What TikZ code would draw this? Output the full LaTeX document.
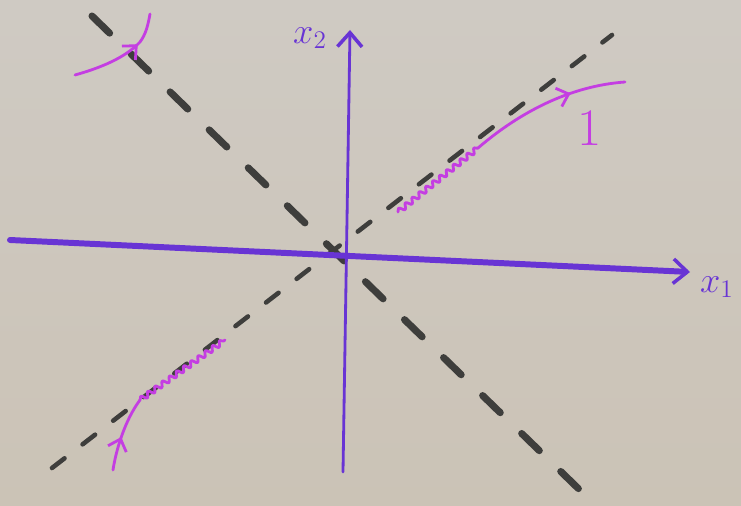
\documentclass[tikz,border=0pt]{standalone}
\usetikzlibrary{arrows.meta,decorations.pathmorphing,decorations.markings}
\definecolor{boardtop}{RGB}{207,202,195}
\definecolor{boardbot}{RGB}{203,195,182}
\definecolor{axispen}{RGB}{104,52,212}
\definecolor{orbitpen}{RGB}{196,62,226}
\definecolor{chalk}{RGB}{62,62,60}
\begin{document}
\begin{tikzpicture}[x=0.02cm, y=-0.02cm, line cap=round, line join=round,
	axisline/.style={draw=axispen, -{Straight Barb[length=8pt,width=14pt,line width=2pt]}},
	eigline/.style={draw=chalk},
	orbit/.style={draw=orbitpen, line width=1.6pt},
	midarrow/.style={postaction={decorate}, decoration={markings, mark=at position #1 with {\arrow{Straight Barb[length=6pt,width=11pt,line width=1.6pt]}}}},
	wiggle/.style={decorate, decoration={snake, amplitude=1.5pt, segment length=5pt}},
	lbl/.style={text=axispen, font=\huge}]
			\useasboundingbox (0,0) rectangle (741,506);
			\shade[top color=boardtop, bottom color=boardbot] (0,0) rectangle (741,506);
			
			\path (342,255) coordinate (O)
			(10,240) coordinate (A1)
			(690,272) coordinate (A2)
			(343,472) coordinate (B1)
			(350,30) coordinate (B2)
			(92,16) coordinate (P1)
			(586,496) coordinate (P2)
			(52,468) coordinate (Q1)
			(612,35) coordinate (Q2);
			
			\draw[eigline, line width=4pt, dash pattern=on 14pt off 17pt] (P1) -- (P2);
			\draw[eigline, line width=2.6pt, dash pattern=on 9pt off 13pt] (Q1) -- (Q2);
			
			\draw[axisline, line width=3.4pt] (A1) -- (A2);
			\draw[axisline, line width=1.6pt] (B1) -- (B2);
			
			\node[lbl, anchor=west] (lx1) at (694,287) {$x_1$};
			\node[lbl] (lx2) at (310,38) {$x_2$};
			
			\path (75,75) coordinate (S1)
			(140,42) coordinate (S2)
			(150,14) coordinate (S3)
			(398,212) coordinate (R1)
			(478,148) coordinate (R2)
			(625,82) coordinate (R3)
			(113,470) coordinate (U1)
			(140,400) coordinate (U2)
			(225,340) coordinate (U3);
			
			\draw[orbit, midarrow=0.68] (S1) .. controls (100,68) and (125,58) .. (S2) .. controls (146,34) and (148,25) .. (S3);
			\draw[orbit, wiggle] (R1) -- (R2);
			\draw[orbit, midarrow=0.66] (R2) .. controls (520,112) and (570,86) .. (R3);
			\draw[orbit, midarrow=0.45] (U1) .. controls (116,450) and (125,420) .. (U2);
			\draw[orbit, wiggle] (U2) -- (U3);
			
			\node[text=orbitpen, font=\fontsize{30}{30}\selectfont] (lone) at (590,128) {1};
\end{tikzpicture}
\end{document}
